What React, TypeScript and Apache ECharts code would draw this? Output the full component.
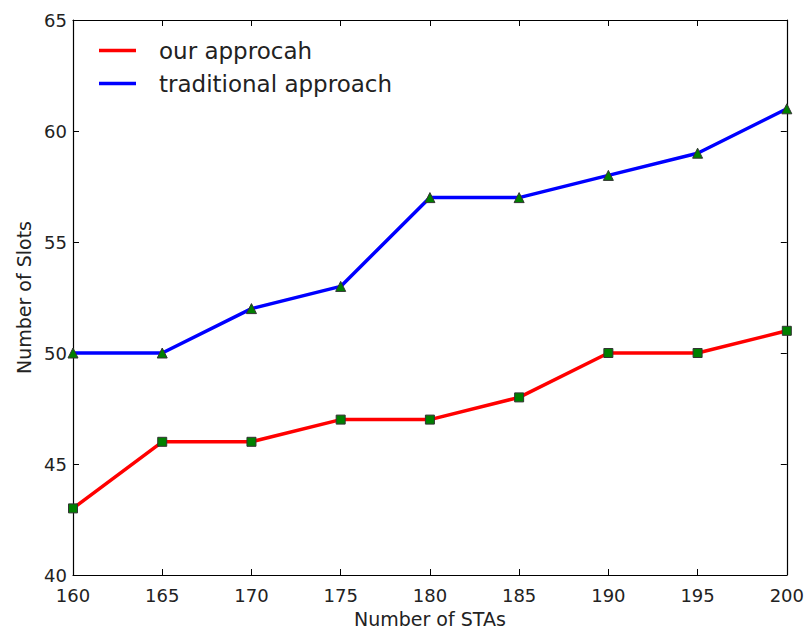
import React, { useEffect, useRef } from "react";
import * as echarts from "echarts";

const stations = [160, 165, 170, 175, 180, 185, 190, 195, 200];
const ourApproach = [43, 46, 46, 47, 47, 48, 50, 50, 51];
const traditionalApproach = [50, 50, 52, 53, 57, 57, 58, 59, 61];
const seriesNames = ["our approcah", "traditional approach"];

const FONT = "DejaVu Sans";

export default function App() {
  const ref = useRef<HTMLDivElement>(null);
  useEffect(() => {
    if (!ref.current) return;
    const chart = echarts.init(ref.current, null, { renderer: "svg" });
    const axisCommon = {
      type: "value" as const,
      interval: 5,
      axisLine: { show: true, onZero: false, lineStyle: { color: "#000", width: 1.2 } },
      axisTick: { show: true, inside: true, length: 6, lineStyle: { color: "#000" } },
      splitLine: { show: false },
    };
    chart.setOption({
      animation: false,
      backgroundColor: "#fff",
      textStyle: { fontFamily: FONT },
      grid: { left: 73, right: 19, top: 20, bottom: 58, containLabel: false },
      legend: {
        orient: "vertical",
        left: 99,
        top: 37,
        padding: 0,
        itemWidth: 37,
        itemHeight: 3.5,
        itemGap: 6,
        textStyle: { fontFamily: FONT, fontSize: 23, color: "#222", padding: [0, 0, 0, 18], lineHeight: 27 },
        data: [
          { name: seriesNames[0], icon: "rect", itemStyle: { color: "#ff0000", borderWidth: 0 } },
          { name: seriesNames[1], icon: "rect", itemStyle: { color: "#0000ff", borderWidth: 0 } },
        ],
      },
      xAxis: [
        {
          ...axisCommon,
          min: 160,
          max: 200,
          position: "bottom",
          name: "Number of STAs",
          nameLocation: "middle",
          nameGap: 34,
          nameTextStyle: { fontFamily: FONT, fontSize: 19, color: "#222" },
          axisLabel: { fontFamily: FONT, fontSize: 18, color: "#222", margin: 11 },
        },
        {
          ...axisCommon,
          min: 160,
          max: 200,
          position: "top",
          axisLabel: { show: false },
        },
      ],
      yAxis: [
        {
          ...axisCommon,
          min: 40,
          max: 65,
          position: "left",
          name: "Number of Slots",
          nameLocation: "middle",
          nameGap: 40,
          nameTextStyle: { fontFamily: FONT, fontSize: 19, color: "#222" },
          axisLabel: { fontFamily: FONT, fontSize: 18, color: "#222", margin: 6 },
        },
        {
          ...axisCommon,
          min: 40,
          max: 65,
          position: "right",
          axisLabel: { show: false },
        },
      ],
      series: [
        {
          name: seriesNames[0],
          type: "line",
          data: stations.map((s, i) => [s, ourApproach[i]]),
          lineStyle: { color: "#ff0000", width: 3.5 },
          symbol: "rect",
          symbolSize: 9,
          itemStyle: { color: "#008000", borderColor: "#333", borderWidth: 1 },
          clip: true,
          z: 3,
        },
        {
          name: seriesNames[1],
          type: "line",
          data: stations.map((s, i) => [s, traditionalApproach[i]]),
          lineStyle: { color: "#0000ff", width: 3.5 },
          symbol: "triangle",
          symbolSize: 10,
          itemStyle: { color: "#008000", borderColor: "#333", borderWidth: 1 },
          clip: true,
          z: 3,
        },
      ],
    });
    return () => chart.dispose();
  }, []);
  return <div ref={ref} style={{ width: 807, height: 633, position: "absolute", left: 0, top: 0 }} />;
}
